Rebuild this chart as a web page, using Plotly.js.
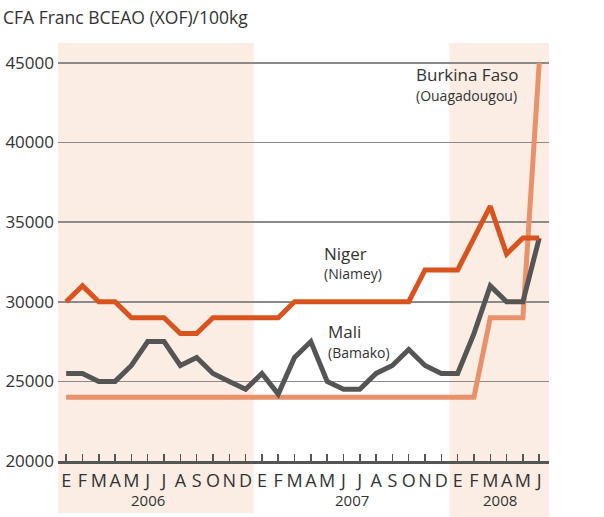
<!DOCTYPE html>
<html><head><meta charset="utf-8">
<script src="https://cdn.plot.ly/plotly-3.0.1.min.js"></script>
<style>body{margin:0;padding:0;background:#fff}#chart{width:604px;height:517px}</style>
</head><body><div id="chart"></div>
<script>
const monthLabels = ['E','F','M','A','M','J','J','A','S','O','N','D','E','F','M','A','M','J','J','A','S','O','N','D','E','F','M','A','M','J'];
const monthIndex = monthLabels.map((_, i) => i);
const niger = [30000,31000,30000,30000,29000,29000,29000,28000,28000,29000,29000,29000,29000,29000,30000,30000,30000,30000,30000,30000,30000,30000,32000,32000,32000,34000,36000,33000,34000,34000];
const mali = [25500,25500,25000,25000,26000,27500,27500,26000,26500,25500,25000,24500,25500,24200,26500,27500,25000,24500,24500,25500,26000,27000,26000,25500,25500,28000,31000,30000,30000,34000];
const burkina = [24000,24000,24000,24000,24000,24000,24000,24000,24000,24000,24000,24000,24000,24000,24000,24000,24000,24000,24000,24000,24000,24000,24000,24000,24000,24000,29000,29000,29000,45000];
const years = ['2006','2007','2008'];
const yearPos = [5, 17.5, 26.6];
const yTicks = [20000,25000,30000,35000,40000,45000];

const W = 491, H = 418, L = 58, T = 43;
const px = x => (x - L) / W;
const py = y => (T + H - y) / H;

const traces = [
  {x: monthIndex, y: burkina, mode: 'lines', line: {color: '#e9916a', width: 5}, hoverinfo: 'skip'},
  {x: monthIndex, y: mali, mode: 'lines', line: {color: '#555555', width: 5}, hoverinfo: 'skip'},
  {x: monthIndex, y: niger, mode: 'lines', line: {color: '#d9531e', width: 5}, hoverinfo: 'skip'}
];

const font = 'Open Sans, Noto Sans, sans-serif';
const annotations = [
  {text: 'Burkina Faso', x: px(414), y: py(75), xanchor: 'left'},
  {text: '(Ouagadougou)', x: px(414), y: py(95), xanchor: 'left', size: 14},
  {text: 'Niger', x: px(322), y: py(253), xanchor: 'left'},
  {text: '(Niamey)', x: px(322), y: py(273), xanchor: 'left', size: 14},
  {text: 'Mali', x: px(326), y: py(331), xanchor: 'left'},
  {text: '(Bamako)', x: px(326), y: py(352), xanchor: 'left', size: 14}
].map(a => ({text: a.text, x: a.x, y: a.y, xref: 'paper', yref: 'paper', xanchor: a.xanchor, yanchor: 'middle', showarrow: false, font: {family: font, size: a.size || 17, color: '#333'}}));
years.forEach((yr, i) => annotations.push({text: yr, x: yearPos[i], y: py(500), xref: 'x', yref: 'paper', xanchor: 'center', yanchor: 'middle', showarrow: false, font: {family: font, size: 15, color: '#333'}}));

const shapes = [
  {type: 'rect', xref: 'x', yref: 'paper', x0: -0.5, x1: 11.5, y0: py(513), y1: 1, fillcolor: '#fbede4', line: {width: 0}, layer: 'below'},
  {type: 'rect', xref: 'x', yref: 'paper', x0: 23.5, x1: 29.6, y0: py(517), y1: 1, fillcolor: '#fbede4', line: {width: 0}, layer: 'below'}
];

const layout = {
  width: 604, height: 517,
  margin: {l: L, r: 604 - L - W, t: T, b: 517 - T - H},
  paper_bgcolor: '#fff', plot_bgcolor: 'rgba(0,0,0,0)',
  showlegend: false,
  title: {text: 'CFA Franc BCEAO (XOF)/100kg', x: 3/604, xref: 'container', xanchor: 'left', y: 1 - 18/517, yref: 'container', yanchor: 'middle', font: {family: font, size: 17.5, color: '#333'}},
  xaxis: {range: [-0.5, 29.6], tickvals: monthIndex, ticktext: monthLabels, ticks: 'inside', ticklen: 7, tickwidth: 1.5, tickcolor: '#555', showgrid: false, zeroline: false, showline: true, linecolor: '#555', linewidth: 3, tickfont: {family: font, size: 18, color: '#333'}, ticklabelstandoff: 1, fixedrange: true},
  yaxis: {range: [20000, 46250], tickvals: yTicks, ticktext: yTicks.map(String), showgrid: true, gridcolor: '#8a8a8a', gridwidth: 1.5, zeroline: false, showline: false, ticks: '', tickfont: {family: font, size: 17, color: '#333'}, ticklabelstandoff: 3, fixedrange: true},
  shapes: shapes,
  annotations: annotations
};

Plotly.newPlot('chart', traces, layout, {displayModeBar: false, staticPlot: true});
</script>
</body></html>
